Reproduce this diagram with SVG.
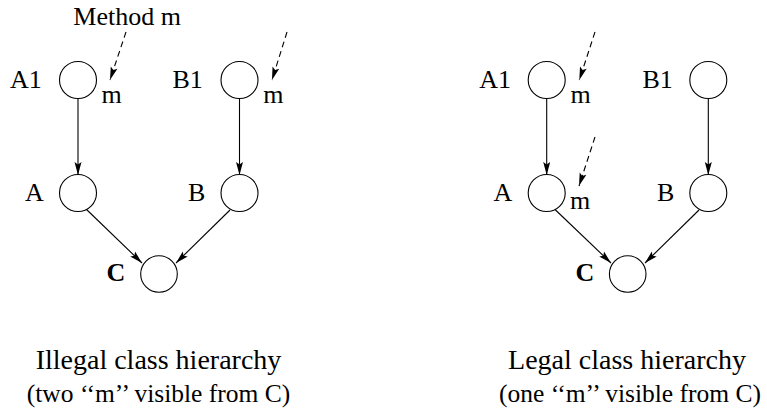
<svg xmlns="http://www.w3.org/2000/svg" width="767" height="409" viewBox="0 0 767 409" font-family="'Liberation Serif', 'Times New Roman', 'DejaVu Serif', serif">
<style>
text{font-family:'Liberation Serif','Times New Roman','DejaVu Serif',serif;fill:#000}
.lbl{font-size:26px}
.c{font-weight:bold}
.t1{font-size:28px;text-anchor:middle}
.t2{font-size:25.5px;text-anchor:middle}
circle{fill:#fff;stroke:#000;stroke-width:1.1}
.e{stroke:#000;stroke-width:1.1;fill:none}
.d{stroke-dasharray:6 4}
</style>
<defs>
<marker id="ah" markerUnits="userSpaceOnUse" markerWidth="14" markerHeight="8" refX="13" refY="3.5" orient="auto" overflow="visible">
<path d="M0,0 L13,3.5 L0,7 L2.5,3.5 Z" fill="#000"/>
</marker>
</defs>
<g id="connectors">
<line class="e" x1="78" y1="98.5" x2="78" y2="175" marker-end="url(#ah)"/>
<line class="e" x1="239.5" y1="98.5" x2="239.5" y2="175" marker-end="url(#ah)"/>
<line class="e" x1="86" y1="209" x2="142" y2="263" marker-end="url(#ah)"/>
<line class="e" x1="230" y1="210" x2="176" y2="263" marker-end="url(#ah)"/>
<line class="e d" x1="126" y1="32" x2="110" y2="80" marker-end="url(#ah)"/>
<line class="e d" x1="287" y1="32" x2="272" y2="80" marker-end="url(#ah)"/>
<line class="e" x1="546.7" y1="98.5" x2="546.7" y2="175" marker-end="url(#ah)"/>
<line class="e" x1="708.3" y1="98.5" x2="708.3" y2="175" marker-end="url(#ah)"/>
<line class="e" x1="555" y1="209.5" x2="611" y2="263" marker-end="url(#ah)"/>
<line class="e" x1="699" y1="210" x2="645" y2="263" marker-end="url(#ah)"/>
<line class="e d" x1="595" y1="32" x2="579.3" y2="80" marker-end="url(#ah)"/>
<line class="e d" x1="595" y1="137" x2="579" y2="186" marker-end="url(#ah)"/>
</g>
<g id="left">
<text class="lbl" x="73.3" y="25">Method m</text>
<g id="L-A1"><circle cx="78" cy="80" r="18.5"/><text class="lbl" x="10" y="88">A1</text><text class="lbl" x="101.5" y="103">m</text></g>
<g id="L-B1"><circle cx="239.5" cy="80" r="18.5"/><text class="lbl" x="172.5" y="88">B1</text><text class="lbl" x="263.3" y="103">m</text></g>
<g id="L-A"><circle cx="78" cy="193" r="18.5"/><text class="lbl" x="25" y="201">A</text></g>
<g id="L-B"><circle cx="239.5" cy="193" r="18.5"/><text class="lbl" x="188" y="201">B</text></g>
<g id="L-C"><circle cx="159" cy="274" r="18.3"/><text class="lbl c" x="106.5" y="281">C</text></g>
<text class="t1" x="158.5" y="369">Illegal class hierarchy</text>
<text class="t2" x="158.5" y="401.5">(two ‘‘m’’ visible from C)</text>
</g>
<g id="right">
<g id="R-A1"><circle cx="546.7" cy="80" r="18.5"/><text class="lbl" x="479.3" y="88">A1</text><text class="lbl" x="570.5" y="103">m</text></g>
<g id="R-B1"><circle cx="708.3" cy="80" r="18.5"/><text class="lbl" x="642.5" y="88">B1</text></g>
<g id="R-A"><circle cx="546.7" cy="193" r="18.5"/><text class="lbl" x="493.5" y="201">A</text><text class="lbl" x="570" y="209">m</text></g>
<g id="R-B"><circle cx="708.3" cy="193" r="18.5"/><text class="lbl" x="657" y="201">B</text></g>
<g id="R-C"><circle cx="627.7" cy="274" r="18.3"/><text class="lbl c" x="575.5" y="281">C</text></g>
<text class="t1" x="627" y="369">Legal class hierarchy</text>
<text class="t2" x="630" y="401.5">(one ‘‘m’’ visible from C)</text>
</g>
</svg>
